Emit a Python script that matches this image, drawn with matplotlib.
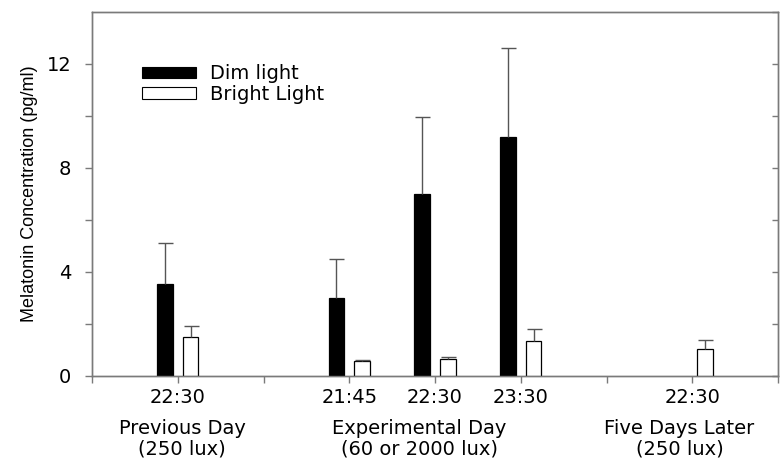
import numpy as np
import matplotlib
matplotlib.use("Agg")
import matplotlib.pyplot as plt
from matplotlib.patches import Patch

# --- data -------------------------------------------------------------
positions = [1, 3, 4, 5, 7]
time_labels = ["22:30", "21:45", "22:30", "23:30", "22:30"]
dim_mean = [3.55, 3.0, 7.0, 9.2, np.nan]
dim_err = [1.57, 1.5, 2.95, 3.4, np.nan]
bright_mean = [1.48, 0.58, 0.64, 1.33, 1.02]
bright_err = [0.45, 0.03, 0.1, 0.47, 0.35]
series_names = ["Dim light", "Bright Light"]
group_labels = ["Previous Day\n(250 lux)", "Experimental Day\n(60 or 2000 lux)", "Five Days Later\n(250 lux)"]
group_centers = [1.05, 3.82, 6.85]
ylabel = "Melatonin Concentration (pg/ml)"

plt.rcParams["font.family"] = ["DejaVu Sans"]

spine_col = "#7a7a7a"
err_col = "#555555"
FS = 14

fig = plt.figure(figsize=(7.8, 4.59), dpi=100)
ax = fig.add_axes([0.118, 0.181, 0.8795, 0.793])

offset = 0.15
width = 0.18
x = np.array(positions, dtype=float)


def bars_with_upper_err(xpos, means, errs, face):
    cont = ax.bar(xpos, means, width, color=face, edgecolor="black", linewidth=0.9,
                  yerr=[np.zeros(len(errs)), errs],
                  error_kw=dict(ecolor=err_col, elinewidth=1.0, capsize=5.4, capthick=1.0),
                  zorder=3)
    # keep only the cap at the top of each error bar
    caps = cont.errorbar.lines[1]
    if caps:
        caps[0].set_visible(False)
    return cont


bars_with_upper_err(x - offset, dim_mean, dim_err, "black")
bars_with_upper_err(x + offset, bright_mean, bright_err, "white")

ax.set_xlim(0, 8)
ax.set_ylim(0, 14)

# x ticks: every integer, labels only at sample times
ax.set_xticks(range(0, 9))
xt = [""] * 9
for p, lab in zip(positions, time_labels):
    xt[p] = lab
ax.set_xticklabels(xt, fontsize=FS)
ax.tick_params(axis="x", direction="out", length=5, width=1, color=spine_col, pad=4)

ax.set_yticks([0, 4, 8, 12])
ax.set_yticks([2, 6, 10], minor=True)
ax.tick_params(axis="y", which="both", direction="out", length=5, width=1, color=spine_col,
               labelsize=FS, pad=10)

# inward ticks on the right spine
ax2 = ax.twinx()
ax2.set_ylim(0, 14)
ax2.set_yticks(np.arange(0, 15, 2))
ax2.tick_params(axis="y", direction="in", length=4, width=1, color=spine_col, labelright=False)

for a in (ax, ax2):
    for s in a.spines.values():
        s.set_color(spine_col)
        s.set_linewidth(1.0)

ax.set_ylabel(ylabel, fontsize=13, family=["Liberation Sans", "DejaVu Sans"], labelpad=6)

trans = ax.get_xaxis_transform()
for cx, lab in zip(group_centers, group_labels):
    ax.text(cx, -0.172, lab, transform=trans, ha="center", va="center", fontsize=FS,
            linespacing=1.12)

handles = [Patch(facecolor="black", edgecolor="black", linewidth=0.8),
           Patch(facecolor="white", edgecolor="black", linewidth=0.8)]
ax.legend(handles, series_names, loc="upper left", bbox_to_anchor=(0.073, 0.857),
          frameon=False, fontsize=FS, handlelength=2.78, handleheight=0.5,
          handletextpad=0.7, labelspacing=0.1, borderpad=0, borderaxespad=0)

fig.savefig("out.png", dpi=100)
